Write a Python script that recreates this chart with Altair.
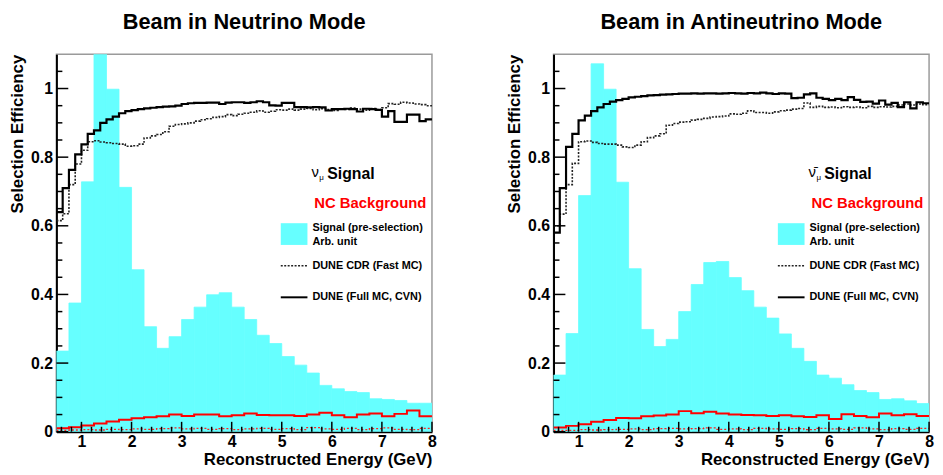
import altair as alt
import pandas as pd

FONT = "Liberation Sans"
E_MIN, E_MAX = 0.5, 8.0
BW_HIST = 0.25
BW_EFF = 0.125

# cyan histogram: signal (pre-selection), arbitrary units, 0.25 GeV bins
sig_nu = [0.235, 0.375, 0.728, 1.15, 0.998, 0.712, 0.472, 0.306, 0.243, 0.277,
          0.327, 0.363, 0.399, 0.405, 0.363, 0.327, 0.281, 0.257, 0.219, 0.194,
          0.171, 0.135, 0.125, 0.117, 0.114, 0.096, 0.094, 0.091, 0.083, 0.083]
sig_anu = [0.165, 0.286, 0.688, 1.072, 0.998, 0.727, 0.475, 0.298, 0.248, 0.269,
           0.350, 0.429, 0.493, 0.496, 0.449, 0.411, 0.363, 0.331, 0.285, 0.243,
           0.205, 0.165, 0.156, 0.137, 0.120, 0.114, 0.094, 0.096, 0.090, 0.082]

# signal efficiency, 0.125 GeV bins
full_nu = [0.640, 0.710, 0.763, 0.808, 0.837, 0.868, 0.878, 0.900, 0.910, 0.918,
           0.928, 0.934, 0.937, 0.940, 0.942, 0.944, 0.946, 0.947, 0.948, 0.950,
           0.955, 0.957, 0.958, 0.958, 0.959, 0.959, 0.955, 0.959, 0.960, 0.960,
           0.958, 0.960, 0.963, 0.960, 0.951, 0.950, 0.958, 0.958, 0.946, 0.946,
           0.945, 0.946, 0.945, 0.936, 0.940, 0.940, 0.941, 0.940, 0.933, 0.941,
           0.940, 0.938, 0.918, 0.934, 0.903, 0.903, 0.924, 0.924, 0.905, 0.910]
cdr_nu = [0.615, 0.635, 0.720, 0.780, 0.820, 0.845, 0.848, 0.844, 0.842, 0.840,
          0.838, 0.832, 0.833, 0.838, 0.856, 0.862, 0.866, 0.874, 0.890, 0.895,
          0.897, 0.900, 0.905, 0.909, 0.912, 0.916, 0.918, 0.924, 0.921, 0.925,
          0.928, 0.931, 0.935, 0.931, 0.934, 0.938, 0.937, 0.940, 0.937, 0.940,
          0.942, 0.938, 0.941, 0.939, 0.936, 0.941, 0.939, 0.943, 0.940, 0.937,
          0.942, 0.939, 0.944, 0.956, 0.954, 0.960, 0.958, 0.955, 0.953, 0.950]
full_anu = [0.580, 0.710, 0.830, 0.868, 0.907, 0.921, 0.934, 0.945, 0.955, 0.962,
            0.966, 0.970, 0.974, 0.976, 0.978, 0.980, 0.981, 0.982, 0.983, 0.984,
            0.985, 0.985, 0.986, 0.985, 0.986, 0.986, 0.985, 0.986, 0.987, 0.986,
            0.985, 0.987, 0.986, 0.988, 0.986, 0.984, 0.986, 0.985, 0.972, 0.973,
            0.983, 0.986, 0.973, 0.970, 0.966, 0.970, 0.966, 0.975, 0.967, 0.961,
            0.962, 0.956, 0.965, 0.953, 0.958, 0.946, 0.960, 0.942, 0.960, 0.957]
cdr_anu = [0.600, 0.634, 0.720, 0.782, 0.845, 0.847, 0.843, 0.840, 0.838, 0.838,
           0.835, 0.830, 0.828, 0.835, 0.845, 0.857, 0.862, 0.868, 0.893, 0.898,
           0.902, 0.903, 0.908, 0.910, 0.913, 0.917, 0.918, 0.920, 0.926, 0.925,
           0.928, 0.935, 0.930, 0.930, 0.928, 0.932, 0.935, 0.937, 0.940, 0.942,
           0.958, 0.945, 0.948, 0.945, 0.946, 0.944, 0.947, 0.945, 0.946, 0.944,
           0.948, 0.945, 0.947, 0.946, 0.948, 0.952, 0.955, 0.952, 0.955, 0.953]

# NC background efficiency, 0.25 GeV bins
nc_full_nu = [0.010, 0.013, 0.018, 0.024, 0.030, 0.035, 0.039, 0.042, 0.045, 0.050,
              0.046, 0.050, 0.050, 0.045, 0.048, 0.053, 0.049, 0.048, 0.048, 0.046,
              0.050, 0.055, 0.048, 0.042, 0.050, 0.053, 0.045, 0.052, 0.062, 0.045]
nc_cdr_nu = [0.004, 0.005, 0.006, 0.005, 0.007, 0.006, 0.008, 0.007, 0.009, 0.011,
             0.008, 0.010, 0.007, 0.009, 0.006, 0.008, 0.010, 0.007, 0.009, 0.006,
             0.012, 0.008, 0.007, 0.010, 0.006, 0.009, 0.011, 0.007, 0.006, 0.010]
nc_full_anu = [0.012, 0.017, 0.022, 0.029, 0.034, 0.040, 0.039, 0.045, 0.047, 0.050,
               0.060, 0.054, 0.058, 0.053, 0.050, 0.049, 0.048, 0.046, 0.048, 0.045,
               0.043, 0.048, 0.037, 0.051, 0.046, 0.042, 0.053, 0.048, 0.051, 0.046]
nc_cdr_anu = [0.004, 0.004, 0.006, 0.005, 0.006, 0.007, 0.008, 0.006, 0.009, 0.010,
              0.008, 0.009, 0.011, 0.007, 0.008, 0.006, 0.010, 0.008, 0.007, 0.009,
              0.006, 0.010, 0.008, 0.007, 0.011, 0.008, 0.006, 0.009, 0.007, 0.010]

x_major = [1, 2, 3, 4, 5, 6, 7, 8]
x_minor = [0.6, 0.8, 1.2, 1.4, 1.6, 1.8, 2.2, 2.4, 2.6, 2.8, 3.2, 3.4, 3.6, 3.8,
           4.2, 4.4, 4.6, 4.8, 5.2, 5.4, 5.6, 5.8, 6.2, 6.4, 6.6, 6.8, 7.2, 7.4,
           7.6, 7.8]
y_major = [0, 0.2, 0.4, 0.6, 0.8, 1.0]
y_minor = [0.05, 0.1, 0.15, 0.25, 0.3, 0.35, 0.45, 0.5, 0.55, 0.65, 0.7, 0.75,
           0.85, 0.9, 0.95, 1.05]

W, H = 380, 382
CYAN = "#66ffff"


def hist_df(vals, bw):
    return pd.DataFrame({
        "x0": [E_MIN + i * bw for i in range(len(vals))],
        "x1": [E_MIN + (i + 1) * bw for i in range(len(vals))],
        "base": [0.0] * len(vals),
        "v": vals,
    })


def step_df(vals, bw):
    xs = [E_MIN + i * bw for i in range(len(vals))] + [E_MIN + len(vals) * bw]
    ys = list(vals) + [vals[-1]]
    return pd.DataFrame({"x": xs, "y": ys})


def panel(title, nu_label, sig, full, cdr, ncf, ncc):
    xs = alt.Scale(domain=[E_MIN, E_MAX], nice=False, zero=False)
    ys = alt.Scale(domain=[0, 1.1], nice=False)

    xaxis = alt.Axis(title="Reconstructed Energy (GeV)", values=x_major, format="d",
                     ticks=False, grid=False, labelFont=FONT, labelFontSize=16,
                     labelFontWeight="bold", labelColor="black", labelPadding=2,
                     labelFlush=False, titleFont=FONT, titleFontSize=17,
                     titleFontWeight="bold", titleColor="black", titleAnchor="end",
                     titlePadding=2, domainColor="black", domainWidth=2)
    yaxis = alt.Axis(title="Selection Efficiency", values=y_major, format=".1~f",
                     ticks=False, grid=False, labelFont=FONT, labelFontSize=16,
                     labelFontWeight="bold", labelColor="black", labelPadding=4,
                     labelFlush=False, titleFont=FONT, titleFontSize=17,
                     titleFontWeight="bold", titleColor="black", titleAnchor="end",
                     titlePadding=4, domainColor="black", domainWidth=2)

    bars = alt.Chart(hist_df(sig, BW_HIST)).mark_rect(
        color=CYAN, stroke=CYAN, strokeWidth=0.8, clip=True).encode(
        x=alt.X("x0:Q", scale=xs, axis=xaxis), x2="x1:Q",
        y=alt.Y("base:Q", scale=ys, axis=yaxis), y2="v:Q")

    def step(vals, bw, color, width, dash=None):
        kw = dict(interpolate="step-after", color=color, strokeWidth=width, clip=True)
        if dash:
            kw["strokeDash"] = dash
        return alt.Chart(step_df(vals, bw)).mark_line(**kw).encode(
            x=alt.X("x:Q", scale=xs), y=alt.Y("y:Q", scale=ys))

    l_ncc = step(ncc, BW_HIST, "#ff2020", 1.3, [2, 2])
    l_ncf = step(ncf, BW_HIST, "#ff0000", 2)
    l_cdr = step(cdr, BW_EFF, "#222222", 1.6, [2, 1.5])
    l_full = step(full, BW_EFF, "#000000", 2.2)

    def xticks(vals, length):
        return alt.Chart(pd.DataFrame({"t": vals})).mark_rule(color="black", strokeWidth=1.5).encode(
            x=alt.X("t:Q", scale=xs), y=alt.value(H), y2=alt.value(H - length))

    def yticks(vals, length):
        return alt.Chart(pd.DataFrame({"t": vals})).mark_rule(color="black", strokeWidth=1.5).encode(
            y=alt.Y("t:Q", scale=ys), x=alt.value(0), x2=alt.value(length))

    one = pd.DataFrame({"a": [0]})

    def txt(s, x, y, size, color="black", weight="bold"):
        return alt.Chart(one).mark_text(text=s, align="left", baseline="middle", font=FONT,
                                        fontSize=size, fontWeight=weight, color=color).encode(
            x=alt.value(x), y=alt.value(y))

    lx = 227  # legend sample left edge (px from plot's left)
    legend = [
        txt(nu_label, lx + 31, 119, 15, weight="normal"),
        txt("μ", lx + 39, 125, 8, weight="normal"),
        txt("Signal", lx + 47, 121, 16),
        txt("NC Background", lx + 34, 151, 15, color="#ff0000"),
        alt.Chart(one).mark_rect(color=CYAN).encode(
            x=alt.value(lx), x2=alt.value(lx + 27), y=alt.value(171), y2=alt.value(193)),
        txt("Signal (pre-selection)", lx + 32, 176, 11),
        txt("Arb. unit", lx + 32, 190, 11),
        alt.Chart(one).mark_rule(color="#222222", strokeWidth=1.6, strokeDash=[2, 1.5]).encode(
            x=alt.value(lx), x2=alt.value(lx + 27), y=alt.value(214)),
        txt("DUNE CDR (Fast MC)", lx + 32, 214, 11),
        alt.Chart(one).mark_rule(color="black", strokeWidth=2).encode(
            x=alt.value(lx), x2=alt.value(lx + 27), y=alt.value(246)),
        txt("DUNE (Full MC, CVN)", lx + 32, 246, 11),
    ]

    return alt.layer(
        bars, l_ncc, l_ncf, l_cdr, l_full,
        xticks(x_major, 10), xticks(x_minor, 5),
        yticks(y_major, 12), yticks(y_minor, 6),
        *legend,
    ).properties(
        width=W, height=H,
        title=alt.TitleParams(title, font=FONT, fontSize=22, fontWeight="bold",
                              color="black", anchor="middle", frame="group", offset=20),
    )


left = panel("Beam in Neutrino Mode", "ν", sig_nu, full_nu, cdr_nu, nc_full_nu, nc_cdr_nu)
right = panel("Beam in Antineutrino Mode", "ν̄", sig_anu, full_anu, cdr_anu, nc_full_anu, nc_cdr_anu)

chart = alt.hconcat(left, right, spacing=68).properties(
    padding={"left": 0, "top": 0, "right": 0, "bottom": 0}
).configure_view(stroke="#9a9a9a", strokeWidth=1.5)

chart.save("out.html", embed_options={"renderer": "svg", "actions": False})
